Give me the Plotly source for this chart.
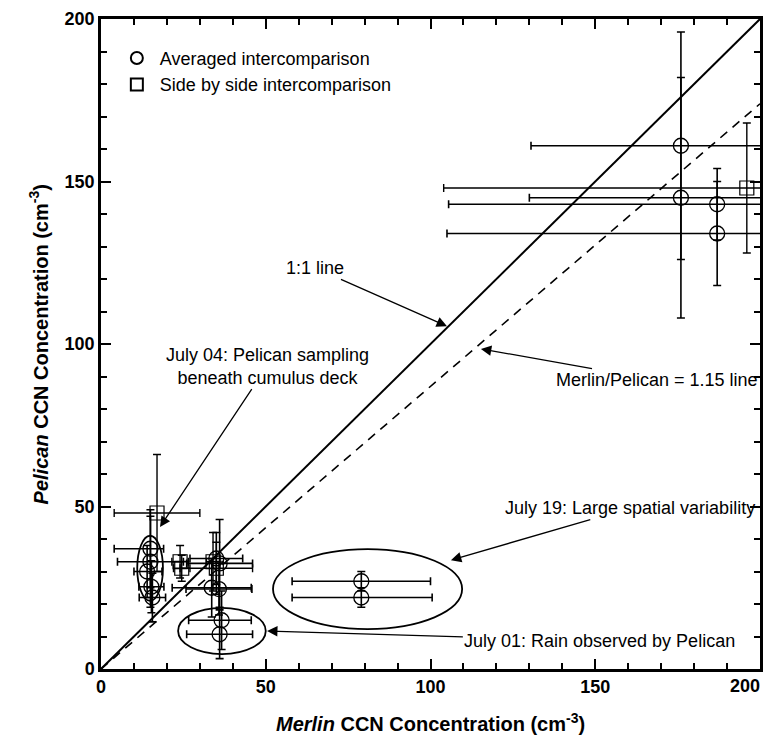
import plotly.graph_objects as go

# Averaged intercomparison (circles): Merlin vs Pelican CCN, with error bars
avg_x = [15, 15, 14, 15.3, 15.6, 35, 36, 33.6, 35.8, 36.6, 36, 79, 79, 176, 176, 187, 187]
avg_y = [37, 33, 30, 25.3, 22, 34, 32.5, 25, 24.6, 15, 10.7, 27, 22, 161, 145, 143, 134]
avg_xerr_minus = [11, 10, 4, 3.8, 4, 8, 10, 12, 10, 10, 10, 21, 21, 45.5, 46, 81.5, 82]
avg_xerr_plus = [4, 10, 4.5, 3.8, 4, 8, 10, 12, 10, 9, 10, 21, 21.5, 46, 46, 82, 82]
avg_yerr = [12, 14, 8, 8, 7.5, 8, 13.5, 9, 8, 9, 7.5, 3, 3, 35, 37, 11, 16]

# Side by side intercomparison (squares)
sbs_x = [17, 24, 24.5, 34, 35, 196]
sbs_y = [48, 33, 31, 33, 31, 148]
sbs_xerr = [13, 2.5, 2.5, 2, 11, 92]
sbs_yerr = [18, 5, 4, 9, 8, 20]

# Reference lines
ref_x = [0, 200]
ratio = 1.15

# Axis ticks
tick_vals = [0, 50, 100, 150, 200]
tick_text = ["0", "50", "100", "150", "200"]

# Case-study ellipses: (center x, center y, radius x, radius y)
ell_july04 = (14.9, 31.0, 3.9, 10.0)
ell_july19 = (80.9, 24.6, 28.7, 12.3)
ell_july01 = (36.7, 11.7, 13.3, 7.1)

FONT = "Liberation Sans, Arial, Helvetica, sans-serif"
BLACK = "black"

fig = go.Figure()

fig.add_trace(go.Scatter(
    x=ref_x, y=ref_x, mode="lines", showlegend=False, hoverinfo="skip",
    line=dict(color=BLACK, width=2)))
fig.add_trace(go.Scatter(
    x=ref_x, y=[v / ratio for v in ref_x], mode="lines", showlegend=False,
    hoverinfo="skip", line=dict(color=BLACK, width=1.6, dash="9px,7px")))

fig.add_trace(go.Scatter(
    x=avg_x, y=avg_y, mode="markers", name="Averaged intercomparison",
    marker=dict(symbol="circle-open", size=15, color=BLACK, line=dict(width=1.3)),
    error_x=dict(type="data", symmetric=False, array=avg_xerr_plus,
                 arrayminus=avg_xerr_minus, color=BLACK, thickness=1.6, width=4),
    error_y=dict(type="data", array=avg_yerr, color=BLACK, thickness=1.6, width=4)))

fig.add_trace(go.Scatter(
    x=sbs_x, y=sbs_y, mode="markers", name="Side by side intercomparison",
    marker=dict(symbol="square-open", size=14, color=BLACK, line=dict(width=1.2)),
    error_x=dict(type="data", array=sbs_xerr, color=BLACK, thickness=1.4, width=4),
    error_y=dict(type="data", array=sbs_yerr, color=BLACK, thickness=1.4, width=4)))

for cx, cy, rx, ry in (ell_july04, ell_july19, ell_july01):
    fig.add_shape(type="circle", xref="x", yref="y",
                  x0=cx - rx, x1=cx + rx, y0=cy - ry, y1=cy + ry,
                  line=dict(color=BLACK, width=1.8))

# Callouts: text centred at (tx, ty), arrow pointing to (hx, hy)
callouts = [
    ("1:1 line", 64.9, 123.4, 105.0, 105.5),
    ("Merlin/Pelican = 1.15 line", 168.7, 88.9, 115.3, 98.5),
    ("July 04: Pelican sampling<br>beneath cumulus deck", 50.4, 93.2, 17.9, 43.7),
    ("July 19: Large spatial variability", 160.5, 49.5, 106.2, 33.5),
    ("July 01: Rain observed by Pelican", 151.4, 8.6, 50.4, 11.7),
]
for txt, tx, ty, hx, hy in callouts:
    fig.add_annotation(x=hx, y=hy, ax=tx, ay=ty, xref="x", yref="y",
                       axref="x", ayref="y", text=txt, showarrow=True,
                       arrowhead=2, arrowsize=1.6, arrowwidth=1.3,
                       arrowcolor=BLACK, align="center", borderpad=1,
                       font=dict(family=FONT, size=18, color=BLACK))

# Last x tick label sits flush with the right end of the axis
fig.add_annotation(x=1, y=0, xref="paper", yref="paper", text=tick_text[-1],
                   showarrow=False, xanchor="right", yanchor="top",
                   xshift=1, yshift=-6, borderpad=0,
                   font=dict(family=FONT, size=18, color=BLACK, weight="bold"))

# Axis titles
fig.add_annotation(x=0.5, y=-0.082, xref="paper", yref="paper",
                   text="<i>Merlin</i> CCN Concentration (cm<sup>-3</sup>)",
                   showarrow=False, xanchor="center", yanchor="middle",
                   font=dict(family=FONT, size=20, color=BLACK, weight="bold"))
fig.add_annotation(x=-0.095, y=0.5, xref="paper", yref="paper",
                   text="<i>Pelican</i> CCN Concentration (cm<sup>-3</sup>)",
                   showarrow=False, textangle=-90, xanchor="center", yanchor="middle",
                   font=dict(family=FONT, size=20, color=BLACK, weight="bold"))

axis_common = dict(
    range=[0, 200], tickmode="array", tickvals=tick_vals,
    ticks="inside", ticklen=10, tickwidth=2,
    tickcolor=BLACK, showline=True, linecolor=BLACK, linewidth=2.5,
    mirror="ticks", showgrid=False, zeroline=False, fixedrange=True,
    automargin=False,
    tickfont=dict(family=FONT, size=18, color=BLACK, weight="bold"),
    minor=dict(dtick=10, tick0=0, ticks="inside", ticklen=6, tickwidth=1.8,
               tickcolor=BLACK, showgrid=False),
)

fig.update_layout(
    width=776, height=743,
    margin=dict(l=101, r=16, t=19, b=74),
    paper_bgcolor="white", plot_bgcolor="white",
    xaxis=dict(axis_common, ticktext=tick_text[:-1] + [""]),
    yaxis=dict(axis_common, ticktext=tick_text),
    showlegend=True,
    legend=dict(x=0.0195, y=0.968, xanchor="left", yanchor="top",
                bgcolor="rgba(0,0,0,0)", borderwidth=0,
                font=dict(family=FONT, size=18, color=BLACK),
                itemsizing="constant", itemwidth=36, tracegroupgap=0),
)

fig.write_html("out.html")
